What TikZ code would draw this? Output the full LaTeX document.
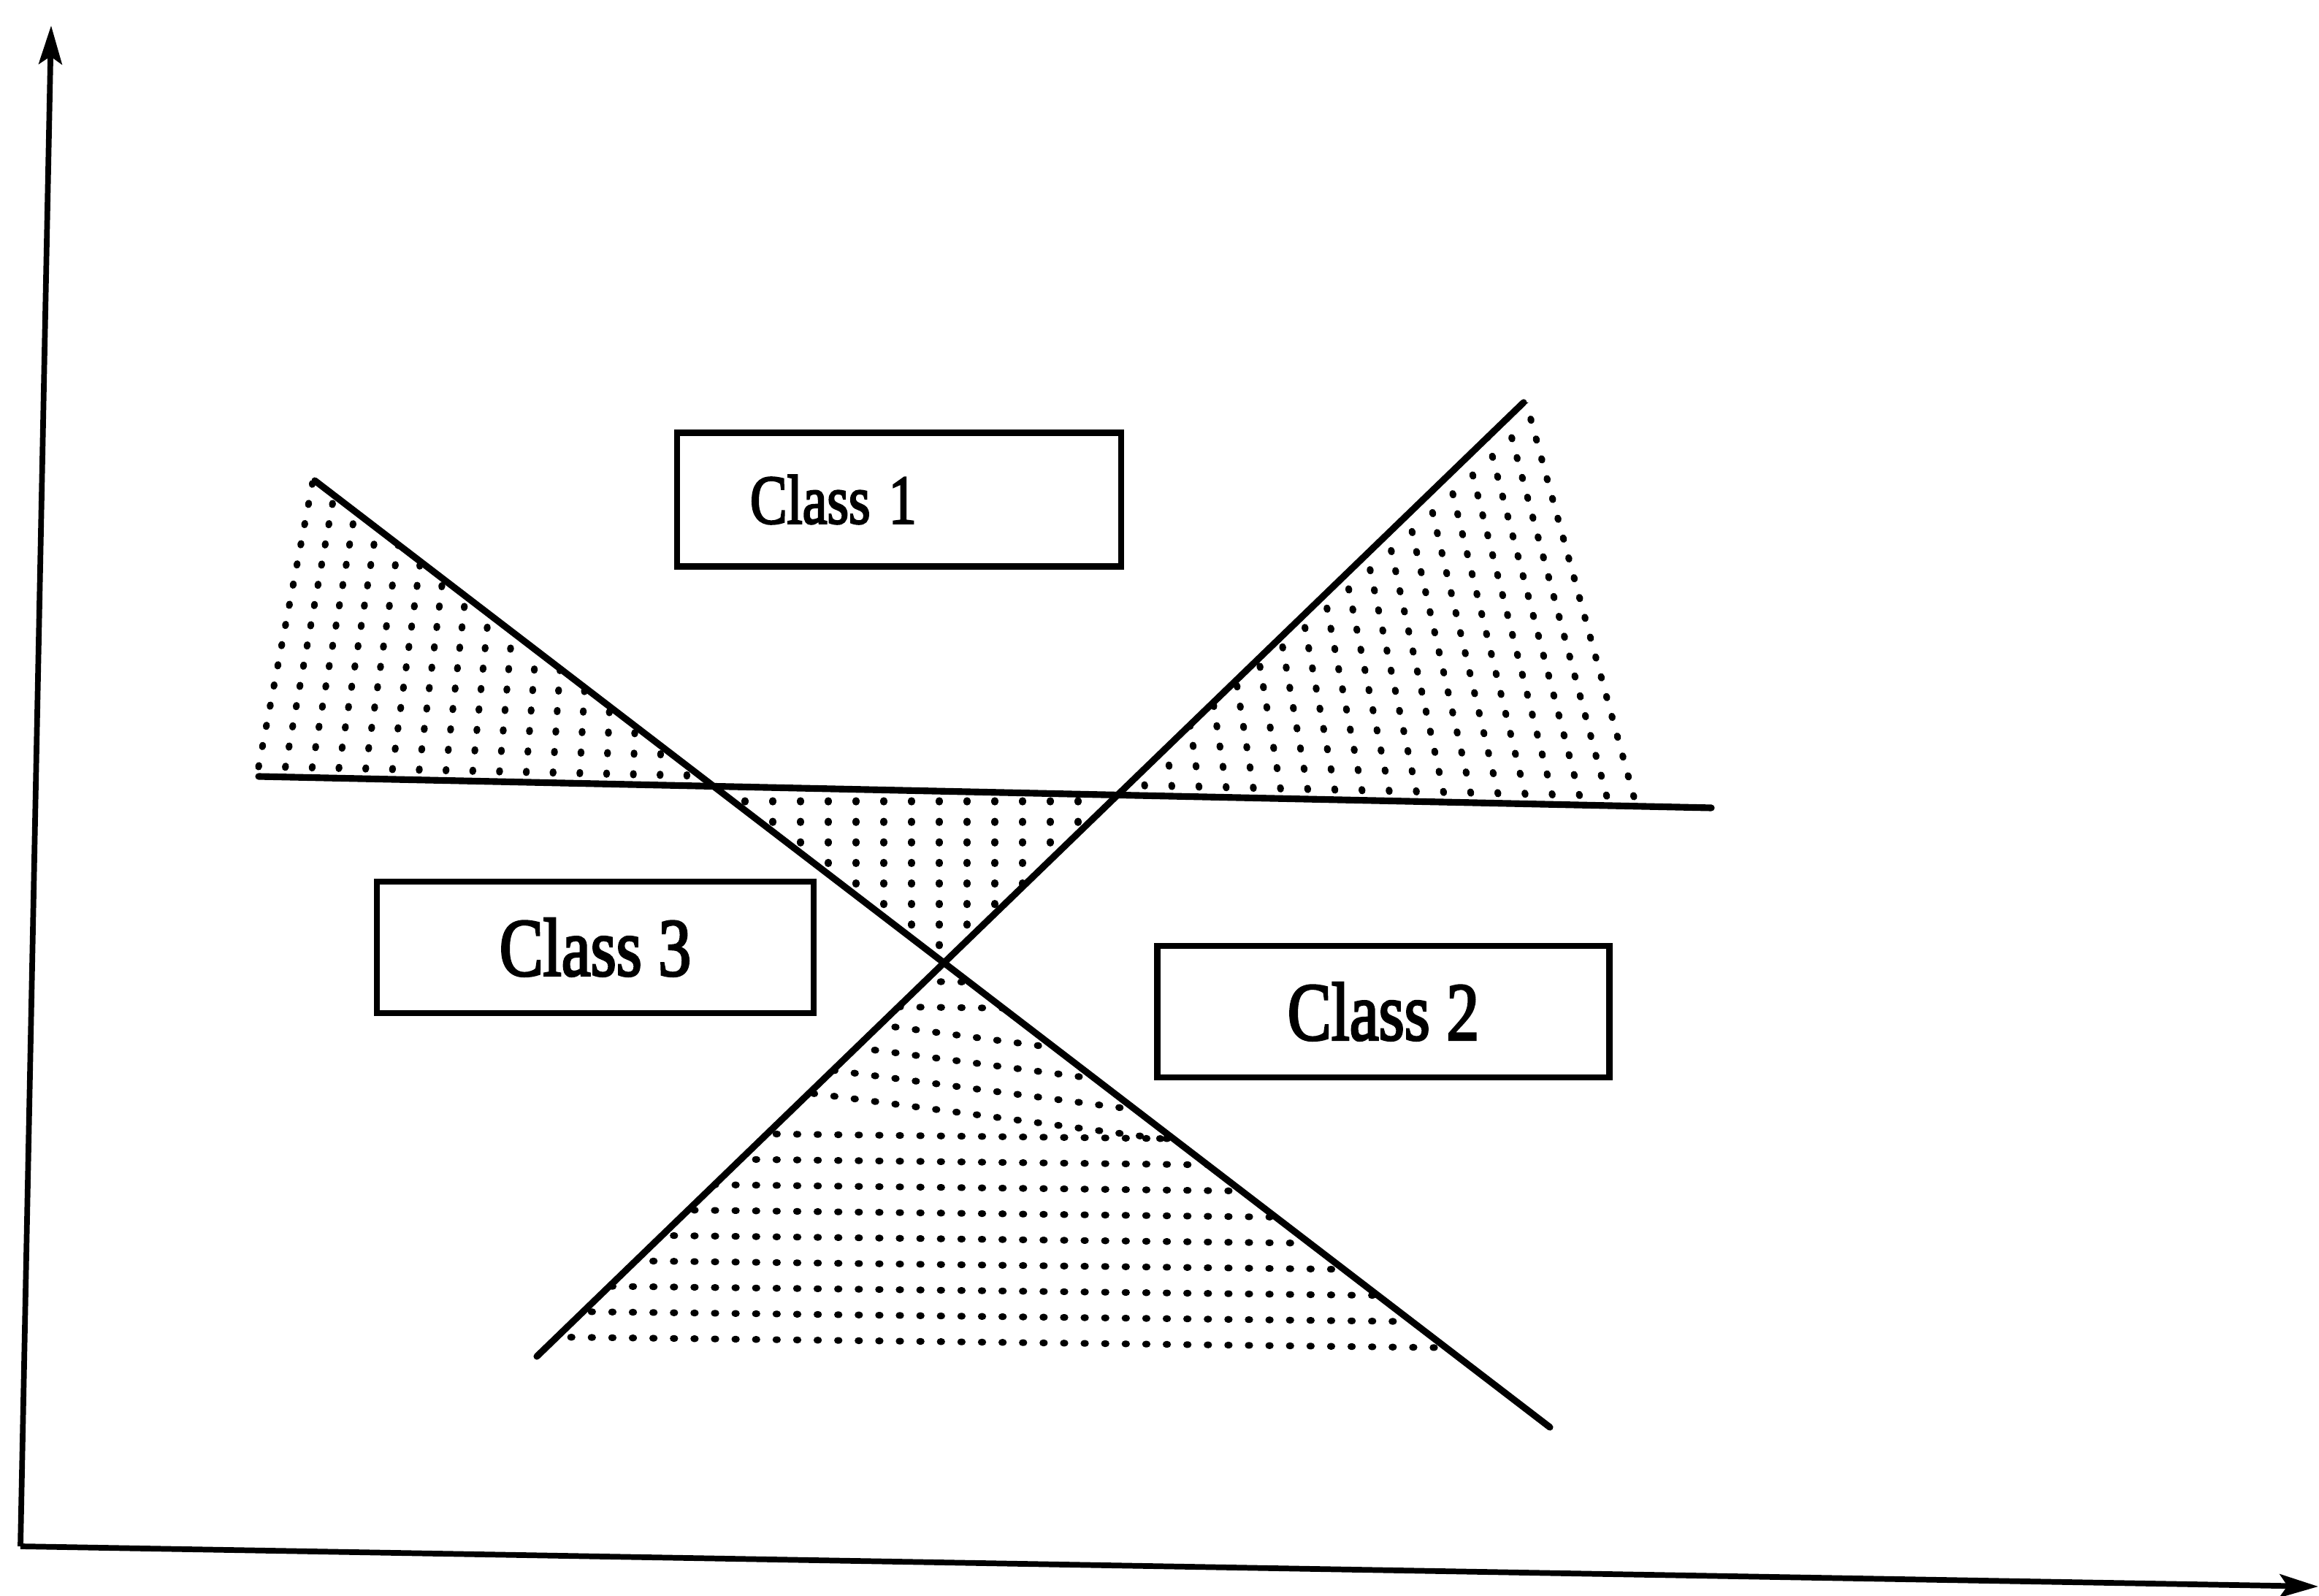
\documentclass[tikz,border=0pt]{standalone}
\usepackage{fontspec}
\setmainfont{Liberation Serif}
\newfontfamily\labelfont[FakeBold=3]{Liberation Serif}
\usetikzlibrary{arrows.meta,calc}

\begin{document}
\begin{tikzpicture}[
        axis/.style={line width=2.2pt, -{Stealth[length=15pt,width=9pt,inset=3pt]}},
        border/.style={line width=2.6pt, line cap=round},
        hatch/.style={line width=2.6pt, dash pattern=on 0.6pt off 7.4pt, line cap=round},
        classbox/.style={draw, line width=2.3pt, minimum height=1.8cm, font=\labelfont\fontsize{32}{36}\selectfont}
    ]
    \useasboundingbox (0,0) rectangle (31.75,21.84);

    % Axes
    \coordinate (O) at (0.28,0.67);
    \coordinate (Ytip) at (0.70,21.49);
    \coordinate (Xtip) at (31.74,0.12);
    \draw[axis] (O) -- (Ytip);
    \draw[axis] (O) -- (Xtip);

    % Decision lines and their crossings
    \coordinate (A1) at (4.31,15.26);
    \coordinate (A2) at (21.22,2.30);
    \coordinate (B1) at (7.35,3.27);
    \coordinate (B2) at (20.86,16.33);
    \coordinate (C1) at (3.54,11.21);
    \coordinate (C2) at (23.43,10.78);
    \coordinate (R1) at (22.37,10.80);
    \coordinate (AC) at (intersection of A1--A2 and C1--C2);
    \coordinate (BC) at (intersection of B1--B2 and C1--C2);
    \coordinate (AB) at (intersection of A1--A2 and B1--B2);

    % Left region - dotted columns
    \begin{scope}
        \clip (A1) -- ($(A1)+(-0.25,0)$) -- ($(C1)+(-0.25,0)$) -- (AC) -- cycle;
        \foreach \i in {0,...,17}{
            \pgfmathsetmacro\tpos{\i/17}
            \draw[hatch] ($(C1)!\tpos!(AC)+(0,0.13)$) -- ++({(1-\tpos)*0.95},5);
        }
    \end{scope}

    % Upper right region - leaning dotted columns
    \begin{scope}
        \clip (BC) -- (B2) -- ($(B2)+(0.3,0)$) -- ($(R1)+(0.3,0)$) -- cycle;
        \foreach \i in {0,...,19}{
            \pgfmathsetmacro\tpos{\i/19}
            \pgfmathsetmacro\lean{0.12+0.153*\tpos}
            \draw[hatch] ($(BC)!\tpos!(R1)+(0,0.13)$) -- ++({-\lean*6},6);
        }
    \end{scope}

    % Middle region - vertical dotted columns
    \begin{scope}
        \clip (AC) -- (BC) -- (AB) -- cycle;
        \foreach \x in {10.2,10.58,...,15.1}
            \draw[hatch] (\x,10.88) -- (\x,8.5);
    \end{scope}

    % Lower region - dotted rows
    \begin{scope}
        \clip (AB) -- (B1) -- ($(A1)!0.935!(A2)$) -- cycle;
        \foreach \k in {1,...,15}{
            \pgfmathsetmacro\yrow{8.40-(\k-1)*0.352}
            \pgfmathsetmacro\lean{and(\k>2,\k<7) ? 0.13 : 0.012}
            \draw[hatch] (5,{\yrow+\lean*7.9}) -- (21,{\yrow-\lean*8.1});
        }
    \end{scope}

    \draw[border] (A1) -- (A2);
    \draw[border] (B1) -- (B2);
    \draw[border] (C1) -- (C2);

    % Class labels
    \node[classbox, minimum height=1.83cm, text width=4.08cm, inner xsep=1cm, align=left,
          font=\labelfont\fontsize{27}{30}\selectfont] (class1) at (12.31,15.0) {\scalebox{0.8}[1]{Class 1}};
    \node[classbox, minimum width=5.98cm] (class3) at (8.15,8.87) {\scalebox{0.8}[1]{Class 3}};
    \node[classbox, minimum width=6.19cm] (class2) at (18.94,7.99) {\scalebox{0.8}[1]{Class 2}};

\end{tikzpicture}
\end{document}
